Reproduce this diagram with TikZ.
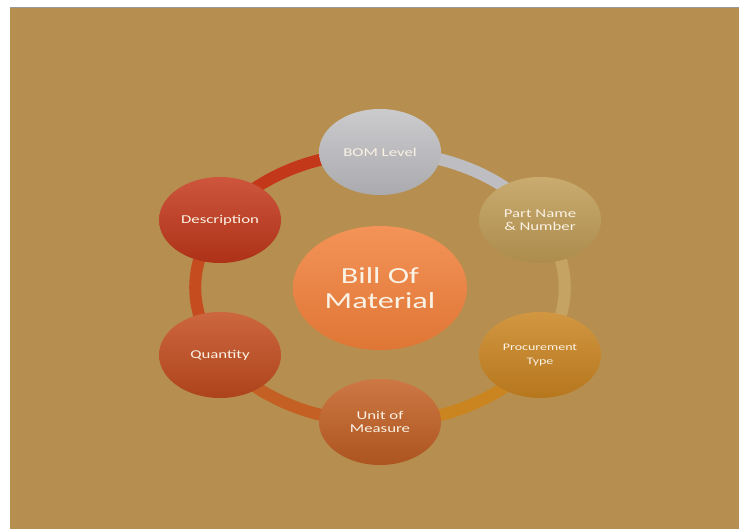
\documentclass[tikz,border=0pt]{standalone}
\usepackage{fontspec}
\setmainfont{Carlito}[FakeStretch=1.4]
\usetikzlibrary{shapes.geometric,backgrounds}

\definecolor{canvas}{RGB}{182,143,80}
\definecolor{cream}{RGB}{250,242,228}
\definecolor{cBom}{RGB}{190,190,194}
\definecolor{cPart}{RGB}{192,156,86}
\definecolor{cProc}{RGB}{202,132,32}
\definecolor{cUnit}{RGB}{196,96,36}
\definecolor{cQty}{RGB}{196,76,30}
\definecolor{cDesc}{RGB}{196,56,26}
\definecolor{cHub}{RGB}{242,128,58}

\begin{document}
\begin{tikzpicture}[
  x=1pt, y=1pt,
  item/.style={ellipse, minimum width=122pt, minimum height=86pt, inner sep=0pt,
    text=cream, align=center, font=\fontsize{12}{13.5}\selectfont},
  hub/.style={item, minimum width=174pt, minimum height=124pt,
    font=\fontsize{23}{24.5}\selectfont},
  ring/.style={line width=12pt},
]
  \useasboundingbox (0,0) rectangle (739,529);

  \node[hub, top color=cHub!85!white, bottom color=cHub!92!black] (bom-hub) at (380,241) {Bill Of\\Material};

  \node[item, top color=cBom!80!white, bottom color=cBom!90!black]   (bom)  at (380,377) {BOM Level};
  \node[item, top color=cPart!85!white, bottom color=cPart!90!black] (part) at (540,309) {Part Name\\\& Number};
  \node[item, top color=cProc!85!white, bottom color=cProc!90!black, font=\fontsize{10}{13.5}\selectfont]
    (proc) at (540,174) {Procurement\\Type};
  \node[item, top color=cUnit!85!white, bottom color=cUnit!88!black] (unit) at (380,107) {Unit of\\Measure};
  \node[item, top color=cQty!85!white, bottom color=cQty!88!black]   (qty)  at (220,174) {Quantity};
  \node[item, top color=cDesc!85!white, bottom color=cDesc!88!black] (desc) at (220,309) {Description};

  \begin{scope}[on background layer]
    % page and panel
    \fill[white] (0,0) rectangle (739,529);
    \fill[canvas] (10,0) rectangle (739,522);
    \draw[gray!80, line width=0.8pt] (10,522) -- (739,522);

    % ring pieces, clockwise
    \draw[ring, cDesc] (desc.center) arc[start angle=150, end angle=90,  x radius=185, y radius=135];
    \draw[ring, cBom]  (bom.center)  arc[start angle=90,  end angle=30,  x radius=185, y radius=135];
    \draw[ring, cPart!92!white] (part.center) arc[start angle=30,  end angle=-30, x radius=185, y radius=135];
    \draw[ring, cProc] (proc.center) arc[start angle=-30, end angle=-90, x radius=185, y radius=135];
    \draw[ring, cUnit] (unit.center) arc[start angle=270, end angle=210, x radius=185, y radius=135];
    \draw[ring, cQty]  (qty.center)  arc[start angle=210, end angle=150, x radius=185, y radius=135];
  \end{scope}
\end{tikzpicture}
\end{document}
